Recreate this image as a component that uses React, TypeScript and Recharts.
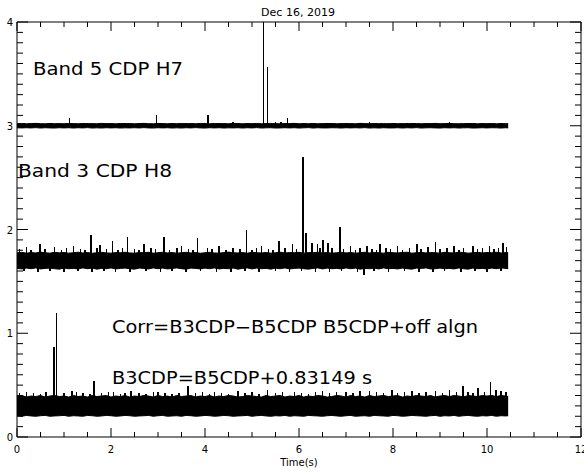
import React from "react";
import {
  Area,
  Bar,
  ComposedChart,
  ReferenceLine,
  XAxis,
  YAxis,
} from "recharts";

// sample times (s)
const times = [
  0, 0.1, 0.2, 0.3, 0.4, 0.5, 0.6, 0.7, 0.8, 0.9,
  1, 1.1, 1.2, 1.3, 1.4, 1.5, 1.6, 1.7, 1.8, 1.9,
  2, 2.1, 2.2, 2.3, 2.4, 2.5, 2.6, 2.7, 2.8, 2.9,
  3, 3.1, 3.2, 3.3, 3.4, 3.5, 3.6, 3.7, 3.8, 3.9,
  4, 4.1, 4.2, 4.3, 4.4, 4.5, 4.6, 4.7, 4.8, 4.9,
  5, 5.1, 5.2, 5.3, 5.4, 5.5, 5.6, 5.7, 5.8, 5.9,
  6, 6.1, 6.2, 6.3, 6.4, 6.5, 6.6, 6.7, 6.8, 6.9,
  7, 7.1, 7.2, 7.3, 7.4, 7.5, 7.6, 7.7, 7.8, 7.9,
  8, 8.1, 8.2, 8.3, 8.4, 8.5, 8.6, 8.7, 8.8, 8.9,
  9, 9.1, 9.2, 9.3, 9.4, 9.5, 9.6, 9.7, 9.8, 9.9,
  10, 10.1, 10.2, 10.3, 10.4, 10.45,
];

// Band 5 CDP H7 envelope
const h7Hi = [
  3.02, 3.022, 3.019, 3.021, 3.023, 3.02, 3.019, 3.022, 3.02, 3.021,
  3.019, 3.022, 3.021, 3.019, 3.022, 3.02, 3.021, 3.019, 3.023, 3.02,
  3.021, 3.019, 3.022, 3.02, 3.021, 3.019, 3.021, 3.023, 3.02, 3.019,
  3.022, 3.021, 3.019, 3.021, 3.02, 3.022, 3.019, 3.021, 3.02, 3.022,
  3.021, 3.019, 3.022, 3.02, 3.021, 3.019, 3.023, 3.021, 3.019, 3.021,
  3.02, 3.022, 3.019, 3.021, 3.022, 3.02, 3.019, 3.021, 3.021, 3.023,
  3.019, 3.021, 3.02, 3.022, 3.019, 3.021, 3.021, 3.022, 3.019, 3.021,
  3.02, 3.021, 3.019, 3.023, 3.021, 3.019, 3.022, 3.02, 3.021, 3.019,
  3.022, 3.02, 3.021, 3.019, 3.022, 3.021, 3.019, 3.021, 3.02, 3.023,
  3.019, 3.021, 3.022, 3.02, 3.019, 3.021, 3.021, 3.022, 3.019, 3.021,
  3.02, 3.022, 3.019, 3.021, 3.02, 3.021,
];
const h7Lo = [
  2.98, 2.979, 2.981, 2.979, 2.982, 2.978, 2.981, 2.979, 2.978, 2.981,
  2.979, 2.981, 2.978, 2.981, 2.979, 2.982, 2.978, 2.98, 2.978, 2.981,
  2.979, 2.981, 2.978, 2.98, 2.979, 2.981, 2.979, 2.982, 2.979, 2.978,
  2.981, 2.979, 2.981, 2.978, 2.98, 2.978, 2.981, 2.979, 2.982, 2.979,
  2.978, 2.981, 2.979, 2.981, 2.978, 2.98, 2.979, 2.981, 2.978, 2.981,
  2.979, 2.982, 2.978, 2.98, 2.981, 2.978, 2.979, 2.981, 2.979, 2.981,
  2.978, 2.98, 2.982, 2.978, 2.981, 2.979, 2.979, 2.981, 2.98, 2.978,
  2.981, 2.979, 2.981, 2.979, 2.982, 2.978, 2.98, 2.978, 2.981, 2.979,
  2.979, 2.981, 2.978, 2.981, 2.979, 2.982, 2.978, 2.98, 2.981, 2.979,
  2.978, 2.981, 2.979, 2.981, 2.978, 2.98, 2.981, 2.978, 2.979, 2.981,
  2.979, 2.981, 2.98, 2.978, 2.981, 2.979,
];

// Band 3 CDP H8 envelope
const h8Hi = [
  1.775, 1.78, 1.772, 1.778, 1.774, 1.782, 1.776, 1.772, 1.78, 1.775,
  1.778, 1.772, 1.776, 1.781, 1.774, 1.778, 1.771, 1.776, 1.78, 1.774,
  1.772, 1.778, 1.776, 1.781, 1.774, 1.772, 1.778, 1.776, 1.78, 1.772,
  1.776, 1.781, 1.774, 1.778, 1.772, 1.776, 1.78, 1.774, 1.778, 1.771,
  1.776, 1.78, 1.774, 1.772, 1.778, 1.782, 1.776, 1.774, 1.778, 1.772,
  1.78, 1.776, 1.774, 1.778, 1.772, 1.776, 1.781, 1.774, 1.778, 1.776,
  1.78, 1.772, 1.778, 1.776, 1.781, 1.774, 1.778, 1.772, 1.776, 1.78,
  1.774, 1.778, 1.772, 1.776, 1.781, 1.774, 1.778, 1.776, 1.772, 1.78,
  1.776, 1.774, 1.778, 1.781, 1.772, 1.776, 1.78, 1.774, 1.778, 1.776,
  1.772, 1.78, 1.776, 1.774, 1.781, 1.778, 1.772, 1.776, 1.78, 1.774,
  1.778, 1.776, 1.781, 1.774, 1.778, 1.776,
];
const h8Lo = [
  1.625, 1.62, 1.628, 1.622, 1.63, 1.62, 1.625, 1.628, 1.622, 1.618,
  1.628, 1.622, 1.625, 1.62, 1.63, 1.622, 1.628, 1.618, 1.625, 1.622,
  1.63, 1.62, 1.625, 1.628, 1.622, 1.618, 1.628, 1.625, 1.62, 1.63,
  1.622, 1.628, 1.62, 1.625, 1.63, 1.622, 1.618, 1.628, 1.625, 1.62,
  1.628, 1.622, 1.63, 1.62, 1.625, 1.622, 1.628, 1.618, 1.625, 1.63,
  1.62, 1.628, 1.622, 1.625, 1.618, 1.628, 1.622, 1.63, 1.62, 1.625,
  1.628, 1.622, 1.618, 1.625, 1.63, 1.62, 1.628, 1.622, 1.625, 1.62,
  1.63, 1.622, 1.628, 1.618, 1.625, 1.622, 1.628, 1.62, 1.63, 1.622,
  1.625, 1.62, 1.628, 1.622, 1.618, 1.628, 1.625, 1.63, 1.62, 1.622,
  1.628, 1.622, 1.625, 1.62, 1.63, 1.622, 1.618, 1.628, 1.622, 1.625,
  1.62, 1.628, 1.622, 1.63, 1.625, 1.622,
];

// Corr envelope
const corrHi = [
  0.39, 0.4, 0.385, 0.395, 0.39, 0.4, 0.385, 0.395, 0.4, 0.39,
  0.395, 0.385, 0.4, 0.39, 0.395, 0.385, 0.4, 0.39, 0.395, 0.4,
  0.385, 0.395, 0.39, 0.4, 0.385, 0.395, 0.39, 0.4, 0.395, 0.385,
  0.4, 0.39, 0.395, 0.385, 0.4, 0.39, 0.395, 0.4, 0.385, 0.395,
  0.39, 0.4, 0.385, 0.395, 0.39, 0.4, 0.395, 0.385, 0.39, 0.4,
  0.395, 0.39, 0.385, 0.4, 0.39, 0.395, 0.4, 0.385, 0.395, 0.39,
  0.4, 0.385, 0.395, 0.39, 0.4, 0.395, 0.385, 0.39, 0.4, 0.395,
  0.385, 0.4, 0.39, 0.395, 0.385, 0.4, 0.39, 0.395, 0.4, 0.39,
  0.395, 0.4, 0.385, 0.395, 0.39, 0.4, 0.395, 0.39, 0.4, 0.385,
  0.395, 0.4, 0.39, 0.4, 0.395, 0.385, 0.4, 0.395, 0.39, 0.4,
  0.395, 0.4, 0.39, 0.4, 0.395, 0.39,
];
const corrLo = [
  0.205, 0.2, 0.208, 0.203, 0.2, 0.205, 0.208, 0.2, 0.203, 0.205,
  0.208, 0.2, 0.205, 0.203, 0.2, 0.208, 0.205, 0.2, 0.203, 0.208,
  0.205, 0.2, 0.203, 0.208, 0.205, 0.2, 0.203, 0.205, 0.208, 0.2,
  0.205, 0.208, 0.2, 0.203, 0.205, 0.2, 0.208, 0.205, 0.2, 0.203,
  0.208, 0.205, 0.2, 0.203, 0.208, 0.205, 0.2, 0.203, 0.205, 0.208,
  0.2, 0.205, 0.208, 0.203, 0.2, 0.205, 0.203, 0.208, 0.2, 0.205,
  0.203, 0.2, 0.208, 0.205, 0.203, 0.2, 0.205, 0.208, 0.203, 0.2,
  0.205, 0.208, 0.2, 0.203, 0.205, 0.2, 0.208, 0.205, 0.203, 0.2,
  0.208, 0.205, 0.2, 0.203, 0.208, 0.205, 0.203, 0.2, 0.205, 0.208,
  0.2, 0.205, 0.203, 0.208, 0.2, 0.205, 0.208, 0.203, 0.2, 0.205,
  0.203, 0.208, 0.2, 0.205, 0.203, 0.205,
];

// spikes and hairs: time, tip value, per trace (baselines below)
const h7SpikeT = [
  0.15, 0.4, 0.7, 1.12, 1.5, 1.9, 2.3, 2.6, 2.97, 3.3, 3.6, 4.06, 4.3, 4.6, 4.9, 5.24, 5.33, 5.5,
  5.62, 5.76, 6.1, 6.6, 7.0, 7.5, 7.9, 8.3, 8.8, 9.2, 9.6, 9.9, 10.3,
];
const h7SpikeV = [
  3.03, 3.03, 3.028, 3.07, 3.028, 3.03, 3.028, 3.03, 3.1, 3.028, 3.03, 3.1, 3.03, 3.04, 3.028, 4.0, 3.57, 3.04,
  3.035, 3.07, 3.03, 3.03, 3.028, 3.035, 3.028, 3.03, 3.028, 3.035, 3.028, 3.03, 3.028,
];
const h8SpikeT = [
  0.05, 0.2, 0.3, 0.49, 0.6, 0.8, 0.95, 1.05, 1.2, 1.35, 1.45, 1.57, 1.7, 1.77, 1.9, 2.03, 2.15, 2.25,
  2.35, 2.5, 2.6, 2.7, 2.85, 2.95, 3.13, 3.25, 3.4, 3.5, 3.65, 3.75, 3.84, 4.05, 4.15, 4.3, 4.45, 4.6,
  4.75, 4.88, 5.0, 5.1, 5.2, 5.35, 5.45, 5.58, 5.7, 5.86, 5.95, 6.09, 6.15, 6.28, 6.39, 6.45, 6.51, 6.62,
  6.7, 6.87, 6.95, 7.1, 7.2, 7.3, 7.45, 7.55, 7.65, 7.72, 7.85, 7.95, 8.1, 8.2, 8.35, 8.51, 8.6, 8.75,
  8.91, 9.0, 9.15, 9.3, 9.4, 9.5, 9.7, 9.8, 9.9, 10.05, 10.15, 10.25, 10.34, 10.42,
  0.15, 0.45, 0.7, 1.0, 1.3, 1.6, 1.85, 2.1, 2.4, 2.75, 3.05, 3.3, 3.6, 3.9, 4.25, 4.55, 4.85, 5.15,
  5.5, 5.8, 6.05, 6.35, 6.65, 6.9, 7.25, 7.38, 7.6, 7.9, 8.25, 8.55, 8.85, 9.1, 9.45, 9.75, 10.0, 10.3,
];
const h8SpikeV = [
  1.81, 1.83, 1.8, 1.86, 1.81, 1.83, 1.8, 1.82, 1.84, 1.81, 1.8, 1.95, 1.82, 1.85, 1.81, 1.89, 1.8, 1.82,
  1.93, 1.81, 1.8, 1.86, 1.82, 1.81, 1.93, 1.8, 1.82, 1.84, 1.81, 1.8, 1.92, 1.82, 1.81, 1.84, 1.8, 1.82,
  1.81, 2.0, 1.8, 1.82, 1.84, 1.81, 1.8, 1.89, 1.82, 1.86, 1.81, 2.7, 1.97, 1.87, 1.86, 1.82, 1.9, 1.87,
  1.82, 2.02, 1.81, 1.84, 1.8, 1.82, 1.84, 1.81, 1.8, 1.86, 1.82, 1.81, 1.84, 1.8, 1.82, 1.86, 1.81, 1.83,
  1.88, 1.81, 1.82, 1.84, 1.8, 1.82, 1.84, 1.81, 1.82, 1.84, 1.81, 1.82, 1.87, 1.83,
  1.6, 1.59, 1.6, 1.595, 1.6, 1.59, 1.6, 1.595, 1.59, 1.6, 1.595, 1.6, 1.59, 1.6, 1.595, 1.59, 1.6, 1.595,
  1.6, 1.59, 1.6, 1.595, 1.59, 1.6, 1.595, 1.56, 1.6, 1.59, 1.6, 1.595, 1.59, 1.6, 1.595, 1.6, 1.59, 1.6,
];
const corrSpikeT = [
  0.05, 0.2, 0.35, 0.5, 0.62, 0.785, 0.84, 1.0, 1.17, 1.27, 1.4, 1.55, 1.64, 1.8, 1.95, 2.05, 2.2, 2.3,
  2.43, 2.6, 2.75, 2.9, 3.0, 3.15, 3.3, 3.45, 3.64, 3.8, 3.95, 4.1, 4.2, 4.35, 4.5, 4.7, 4.85, 5.0,
  5.15, 5.33, 5.5, 5.65, 5.9, 6.05, 6.2, 6.35, 6.5, 6.65, 6.8, 7.0, 7.15, 7.3, 7.5, 7.65, 7.8, 7.98,
  8.1, 8.25, 8.4, 8.55, 8.7, 8.91, 9.05, 9.2, 9.35, 9.49, 9.6, 9.7, 9.81, 9.95, 10.08, 10.19, 10.3, 10.4,
];
const corrSpikeV = [
  0.42, 0.43, 0.42, 0.41, 0.43, 0.87, 1.2, 0.42, 0.44, 0.43, 0.42, 0.41, 0.54, 0.42, 0.43, 0.43, 0.41, 0.42,
  0.44, 0.42, 0.41, 0.43, 0.43, 0.42, 0.41, 0.42, 0.49, 0.42, 0.43, 0.41, 0.43, 0.42, 0.41, 0.44, 0.42, 0.43,
  0.41, 0.45, 0.42, 0.43, 0.43, 0.42, 0.41, 0.43, 0.44, 0.42, 0.43, 0.43, 0.42, 0.44, 0.44, 0.43, 0.42, 0.45,
  0.42, 0.43, 0.44, 0.42, 0.43, 0.44, 0.42, 0.45, 0.43, 0.49, 0.43, 0.42, 0.47, 0.43, 0.53, 0.45, 0.44, 0.43,
];
const baselines = [3.0, 1.7, 0.3];

const xTicks = [0, 0.5, 1, 1.5, 2, 2.5, 3, 3.5, 4, 4.5, 5, 5.5, 6, 6.5, 7, 7.5, 8, 8.5, 9, 9.5, 10, 10.5, 11, 11.5, 12];
const yTicks = [
  0, 0.1, 0.2, 0.3, 0.4, 0.5, 0.6, 0.7, 0.8, 0.9, 1, 1.1, 1.2, 1.3, 1.4, 1.5, 1.6, 1.7, 1.8, 1.9,
  2, 2.1, 2.2, 2.3, 2.4, 2.5, 2.6, 2.7, 2.8, 2.9, 3, 3.1, 3.2, 3.3, 3.4, 3.5, 3.6, 3.7, 3.8, 3.9, 4,
];

const W = 584;
const H = 473;
const M = { top: 22, right: 3, bottom: 35, left: 16 };
const FONT = "'DejaVu Sans', sans-serif";

type Row = { t: number; h7?: number[]; h8?: number[]; corr?: number[]; spike?: number[] };

const rows: Row[] = times.map((t, i) => ({
  t,
  h7: [h7Lo[i], h7Hi[i]],
  h8: [h8Lo[i], h8Hi[i]],
  corr: [corrLo[i], corrHi[i]],
}));
const addSpikes = (ts: number[], vs: number[], base: number) =>
  ts.forEach((t, i) =>
    rows.push({ t, spike: vs[i] > base ? [base, vs[i]] : [vs[i], base] })
  );
addSpikes(h7SpikeT, h7SpikeV, baselines[0]);
addSpikes(h8SpikeT, h8SpikeV, baselines[1]);
addSpikes(corrSpikeT, corrSpikeV, baselines[2]);
rows.sort((a, b) => a.t - b.t);

const plotTop = M.top;
const plotRight = W - M.right;

const XTick = (props: any) => {
  const { x, payload } = props;
  const major = payload.value % 2 === 0;
  const len = major ? 9 : 5;
  const yb = H - M.bottom - 1;
  return (
    <g>
      <line x1={x} x2={x} y1={yb} y2={yb - len} stroke="#000" />
      <line x1={x} x2={x} y1={plotTop} y2={plotTop + len} stroke="#000" />
      {major && (
        <text x={x} y={yb + 16} textAnchor="middle" fontSize={10} fontFamily={FONT} fill="#000">
          {payload.value}
        </text>
      )}
    </g>
  );
};

const YTick = (props: any) => {
  const { y, payload } = props;
  const major = Math.abs(payload.value - Math.round(payload.value)) < 1e-6;
  const len = major ? 11 : 6;
  const xl = M.left + 1;
  return (
    <g>
      <line x1={xl} x2={xl + len} y1={y} y2={y} stroke="#000" />
      <line x1={plotRight} x2={plotRight - len} y1={y} y2={y} stroke="#000" />
      {major && (
        <text x={xl - 4} y={y + 4} textAnchor="end" fontSize={10} fontFamily={FONT} fill="#000">
          {payload.value}
        </text>
      )}
    </g>
  );
};

// thin vertical stroke centred on the bar slot the library computed
const Spike = (props: any) => {
  const { x, y, width, height } = props;
  if (height == null || !isFinite(y)) return null;
  const cx = x + width / 2;
  return (
    <rect
      x={cx - 0.75}
      y={height < 0 ? y + height : y}
      width={1.5}
      height={Math.abs(height)}
      fill="#000"
      shapeRendering="crispEdges"
    />
  );
};

const labelStyle = { fontFamily: FONT, fontSize: 17, fill: "#000" };

export default function App() {
  return (
    <div style={{ position: "absolute", left: 0, top: 0, width: W, height: H, background: "#fff" }}>
      <ComposedChart width={W} height={H} data={rows} margin={M}>
        <XAxis
          dataKey="t"
          type="number"
          domain={[0, 12]}
          ticks={xTicks}
          interval={0}
          tick={<XTick />}
          tickLine={false}
          tickSize={0}
          tickMargin={0}
          height={1}
          stroke="#000"
          allowDataOverflow
        />
        <YAxis
          type="number"
          domain={[0, 4]}
          ticks={yTicks}
          interval={0}
          tick={<YTick />}
          tickLine={false}
          tickSize={0}
          tickMargin={0}
          width={1}
          stroke="#000"
          allowDataOverflow
        />
        <ReferenceLine y={4} stroke="#000" />
        <ReferenceLine x={12} stroke="#000" />
        <Area dataKey="h7" type="linear" stroke="#000" strokeWidth={1} fill="#000" fillOpacity={1} connectNulls isAnimationActive={false} dot={false} activeDot={false} />
        <Area dataKey="h8" type="linear" stroke="#000" strokeWidth={1} fill="#000" fillOpacity={1} connectNulls isAnimationActive={false} dot={false} activeDot={false} />
        <Area dataKey="corr" type="linear" stroke="#000" strokeWidth={1} fill="#000" fillOpacity={1} connectNulls isAnimationActive={false} dot={false} activeDot={false} />
        <Bar dataKey="spike" barSize={2} fill="#000" shape={<Spike />} isAnimationActive={false} />
      </ComposedChart>
      <svg width={W} height={H} style={{ position: "absolute", left: 0, top: 0, pointerEvents: "none" }}>
        <text x={298} y={16} textAnchor="middle" fontSize={11} fontFamily={FONT}>
          Dec 16, 2019
        </text>
        <text x={33} y={75} textLength={150} lengthAdjust="spacingAndGlyphs" {...labelStyle}>
          Band 5 CDP H7
        </text>
        <text x={18} y={177} textLength={154} lengthAdjust="spacingAndGlyphs" {...labelStyle}>
          Band 3 CDP H8
        </text>
        <text x={112} y={333} textLength={366} lengthAdjust="spacingAndGlyphs" {...labelStyle}>
          Corr=B3CDP−B5CDP B5CDP+off algn
        </text>
        <text x={112} y={384} textLength={260} lengthAdjust="spacingAndGlyphs" {...labelStyle}>
          B3CDP=B5CDP+0.83149 s
        </text>
        <text x={299} y={466} textAnchor="middle" fontSize={10} fontFamily={FONT}>
          Time(s)
        </text>
      </svg>
    </div>
  );
}
